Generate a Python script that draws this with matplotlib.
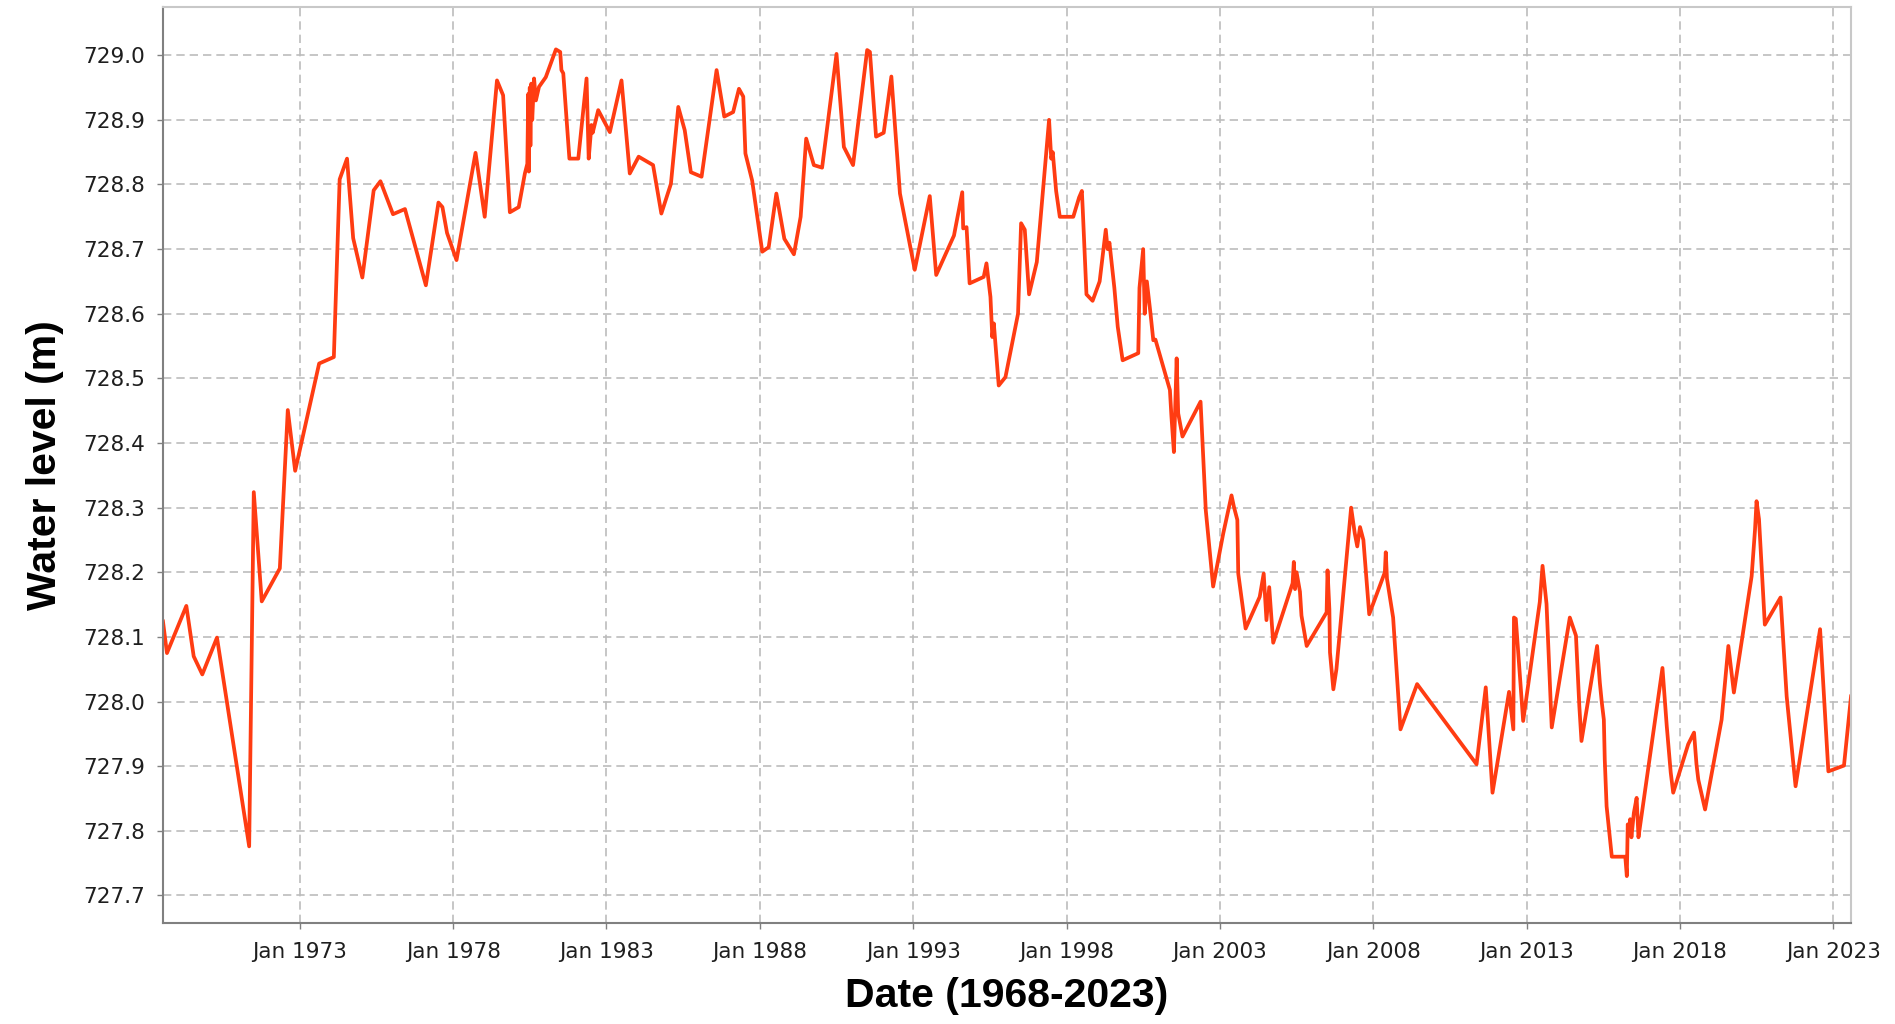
import numpy as np
import pandas as pd
import matplotlib
matplotlib.use("Agg")
import matplotlib.pyplot as plt
import matplotlib.dates as mdates

# Water level series (decimal year, metres)
years = [
    1968.54, 1968.67, 1969.30, 1969.54, 1969.82, 1970.30, 1971.35, 1971.50, 1971.76, 1972.35,
    1972.61, 1972.85, 1973.63, 1974.11, 1974.30, 1974.54, 1974.74, 1975.04, 1975.41, 1975.63,
    1976.04, 1976.43, 1977.11, 1977.52, 1977.65, 1977.80, 1978.11, 1978.73, 1979.03, 1979.43,
    1979.63, 1979.85, 1980.14, 1980.34, 1980.42, 1980.45, 1980.47, 1980.50, 1980.52, 1980.55,
    1980.58, 1980.64, 1980.70, 1980.80, 1981.02, 1981.35, 1981.49, 1981.53, 1981.59, 1981.79,
    1982.08, 1982.35, 1982.42, 1982.51, 1982.55, 1982.73, 1983.11, 1983.49, 1983.76, 1984.05,
    1984.52, 1984.79, 1985.10, 1985.34, 1985.55, 1985.75, 1986.10, 1986.59, 1986.84, 1987.13,
    1987.32, 1987.46, 1987.53, 1987.75, 1988.08, 1988.29, 1988.54, 1988.80, 1989.11, 1989.33,
    1989.51, 1989.76, 1990.03, 1990.50, 1990.74, 1991.04, 1991.50, 1991.59, 1991.79, 1992.04,
    1992.29, 1992.57, 1993.05, 1993.54, 1993.75, 1994.33, 1994.60, 1994.63, 1994.74, 1994.84,
    1995.30, 1995.39, 1995.52, 1995.58, 1995.63, 1995.79, 1996.01, 1996.42, 1996.52, 1996.64,
    1996.78, 1997.03, 1997.43, 1997.50, 1997.55, 1997.66, 1997.78, 1998.22, 1998.41, 1998.50,
    1998.53, 1998.65, 1998.85, 1999.08, 1999.28, 1999.34, 1999.40, 1999.56, 1999.67, 1999.83,
    2000.34, 2000.38, 2000.50, 2000.55, 2000.62, 2000.74, 2000.83, 2000.90, 2001.37, 2001.42,
    2001.50, 2001.59, 2001.64, 2001.78, 2002.37, 2002.54, 2002.78, 2003.11, 2003.38, 2003.46,
    2003.57, 2003.60, 2003.84, 2004.30, 2004.43, 2004.52, 2004.61, 2004.74, 2005.37, 2005.41,
    2005.45, 2005.50, 2005.61, 2005.66, 2005.83, 2006.48, 2006.51, 2006.57, 2006.59, 2006.70,
    2006.80, 2007.28, 2007.40, 2007.48, 2007.57, 2007.68, 2007.87, 2008.38, 2008.41, 2008.45,
    2008.65, 2008.89, 2009.43, 2011.37, 2011.67, 2011.89, 2012.43, 2012.57, 2012.59, 2012.65,
    2012.89, 2013.43, 2013.52, 2013.65, 2013.82, 2014.41, 2014.61, 2014.72, 2014.79, 2015.30,
    2015.39, 2015.45, 2015.52, 2015.55, 2015.61, 2015.72, 2015.78, 2016.22, 2016.27, 2016.30,
    2016.34, 2016.38, 2016.42, 2016.50, 2016.59, 2016.65, 2016.70, 2017.43, 2017.57, 2017.70,
    2017.78, 2018.27, 2018.46, 2018.54, 2018.60, 2018.82, 2019.36, 2019.58, 2019.76, 2020.34,
    2020.45, 2020.50, 2020.58, 2020.77, 2021.28, 2021.48, 2021.77, 2022.57, 2022.84, 2023.35,
    2023.58,
]
levels = [
    728.124, 728.075, 728.148, 728.070, 728.042, 728.099, 727.776, 728.324, 728.155, 728.206,
    728.451, 728.357, 728.523, 728.533, 728.808, 728.840, 728.717, 728.656, 728.791, 728.805,
    728.754, 728.762, 728.644, 728.772, 728.765, 728.725, 728.683, 728.849, 728.750, 728.961,
    728.938, 728.757, 728.765, 728.817, 728.832, 728.940, 728.820, 728.950, 728.860, 728.956,
    728.900, 728.964, 728.930, 728.951, 728.966, 729.009, 729.005, 728.977, 728.972, 728.840,
    728.840, 728.964, 728.840, 728.892, 728.880, 728.915, 728.881, 728.961, 728.817, 728.843,
    728.830, 728.755, 728.801, 728.920, 728.884, 728.819, 728.812, 728.977, 728.905, 728.912,
    728.948, 728.936, 728.848, 728.806, 728.696, 728.703, 728.786, 728.716, 728.692, 728.750,
    728.871, 728.830, 728.826, 729.002, 728.858, 728.830, 729.008, 729.005, 728.874, 728.880,
    728.967, 728.786, 728.668, 728.782, 728.660, 728.721, 728.788, 728.732, 728.734, 728.647,
    728.657, 728.678, 728.626, 728.564, 728.585, 728.489, 728.502, 728.600, 728.740, 728.730,
    728.630, 728.680, 728.900, 728.840, 728.850, 728.790, 728.750, 728.750, 728.780, 728.790,
    728.760, 728.630, 728.620, 728.650, 728.730, 728.700, 728.710, 728.640, 728.580, 728.528,
    728.539, 728.640, 728.700, 728.600, 728.650, 728.600, 728.559, 728.560, 728.482, 728.441,
    728.386, 728.531, 728.446, 728.410, 728.464, 728.296, 728.178, 728.260, 728.319, 728.301,
    728.281, 728.198, 728.113, 728.162, 728.198, 728.126, 728.177, 728.091, 728.183, 728.216,
    728.174, 728.200, 728.170, 728.133, 728.086, 728.138, 728.203, 728.143, 728.076, 728.019,
    728.050, 728.300, 728.260, 728.240, 728.270, 728.250, 728.135, 728.200, 728.231, 728.190,
    728.130, 727.957, 728.027, 727.903, 728.022, 727.859, 728.015, 727.957, 728.130, 728.128,
    727.970, 728.154, 728.210, 728.151, 727.960, 728.130, 728.102, 727.993, 727.939, 728.086,
    728.029, 728.000, 727.972, 727.910, 727.838, 727.787, 727.760, 727.760, 727.730, 727.810,
    727.800, 727.818, 727.790, 727.828, 727.851, 727.790, 727.807, 728.052, 727.962, 727.890,
    727.859, 727.934, 727.952, 727.903, 727.879, 727.833, 727.972, 728.086, 728.014, 728.194,
    728.266, 728.310, 728.282, 728.119, 728.161, 728.008, 727.869, 728.112, 727.892, 727.901,
    728.008,
]
ytick_values = [727.7, 727.8, 727.9, 728.0, 728.1, 728.2, 728.3, 728.4, 728.5, 728.6, 728.7, 728.8, 728.9, 729.0]
xtick_years = [1973, 1978, 1983, 1988, 1993, 1998, 2003, 2008, 2013, 2018, 2023]


def to_dates(ys):
    ys = np.asarray(ys, dtype=float)
    whole = ys.astype(int)
    base = pd.to_datetime([f"{y}-01-01" for y in whole])
    return base + pd.to_timedelta((ys - whole) * 365.25, unit="D")


dates = to_dates(years)
tick_dates = to_dates(xtick_years)

fig = plt.figure(figsize=(18.95, 10.24), dpi=100)
ax = fig.add_axes([0.086, 0.099, 0.8908, 0.8938])

ax.plot(dates, levels, color="#ff3c12", linewidth=2.7, solid_joinstyle="round")

ax.set_xlim(dates[0], dates[-1])
ax.set_ylim(727.658, 729.074)

ax.set_yticks(ytick_values)
ax.yaxis.set_major_formatter(plt.FormatStrFormatter("%.1f"))
ax.set_xticks(tick_dates)
ax.xaxis.set_major_formatter(mdates.DateFormatter("%b %Y"))

ax.grid(True, color="#bcbcbc", linestyle=(0, (5, 3)), linewidth=1.2)
ax.set_axisbelow(True)

for side in ["left", "bottom"]:
    ax.spines[side].set_color("#808080")
    ax.spines[side].set_linewidth(1.5)
for side in ["top", "right"]:
    ax.spines[side].set_color("#c8c8c8")
    ax.spines[side].set_linewidth(1.5)

ax.tick_params(axis="both", direction="out", length=4, width=1, color="#808080",
               labelsize=15.5, labelcolor="#1e1e1e")
ax.tick_params(axis="y", pad=9)
ax.tick_params(axis="x", pad=10)

ax.set_ylabel("Water level (m)", fontsize=29.5, fontweight="bold", family="Liberation Sans",
              labelpad=14)
ax.set_xlabel("Date (1968-2023)", fontsize=29.5, fontweight="bold", family="Liberation Sans",
              labelpad=11)

fig.savefig("out.png", dpi=100, facecolor="white")
